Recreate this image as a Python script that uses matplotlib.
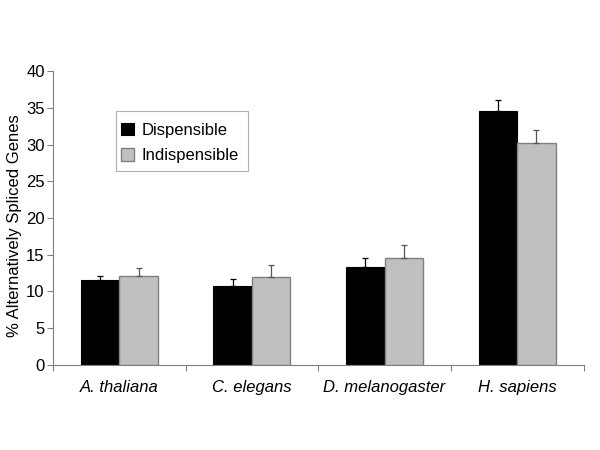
import matplotlib
matplotlib.use("Agg")
import matplotlib.pyplot as plt
from matplotlib.patches import Rectangle
import numpy as np

categories = ["A. thaliana", "C. elegans", "D. melanogaster", "H. sapiens"]
dispensible = [11.55, 10.7, 13.3, 34.6]
dispensible_err = [0.55, 1.0, 1.3, 1.4]
indispensible = [12.15, 11.95, 14.5, 30.2]
indispensible_err = [1.05, 1.6, 1.85, 1.75]
yticks = [0, 5, 10, 15, 20, 25, 30, 35, 40]

plt.rcParams['font.family'] = ['Liberation Sans', 'DejaVu Sans']

fig = plt.figure(figsize=(6, 4.5), dpi=100)
ax = fig.add_axes([0.0883, 0.1889, 0.8842, 0.6533])

x = np.arange(len(categories))
w = 0.29
ax.bar(x - w/2, dispensible, w, color='black', edgecolor='black', linewidth=0.8,
       label='Dispensible', zorder=2)
ax.bar(x + w/2, indispensible, w, color='#c0c0c0', edgecolor='#808080', linewidth=1.0,
       label='Indispensible', zorder=2)
ax.errorbar(x - w/2, dispensible, yerr=[np.zeros(4), dispensible_err], fmt='none',
            ecolor='black', elinewidth=0.9, capsize=2, capthick=0.9, zorder=3)
ax.errorbar(x + w/2, indispensible, yerr=[np.zeros(4), indispensible_err], fmt='none',
            ecolor='#555555', elinewidth=0.9, capsize=2, capthick=0.9, zorder=3)

ax.set_xlim(-0.5, len(categories) - 0.5)
ax.set_ylim(0, 40)
ax.set_yticks(yticks)
ax.set_yticklabels([str(v) for v in yticks], fontsize=12)
ax.set_xticks(x)
ax.set_xticklabels(categories, fontsize=12, style='italic')
ax.set_xticks(np.arange(-0.5, len(categories)), minor=True)
ax.tick_params(axis='x', which='major', length=0, pad=11)
ax.tick_params(axis='x', which='minor', length=4, color='#808080', width=0.8)
ax.tick_params(axis='y', length=4, color='#808080', width=0.8, pad=2)

for s in ['top', 'right']:
    ax.spines[s].set_visible(False)
for s in ['left', 'bottom']:
    ax.spines[s].set_color('#808080')
    ax.spines[s].set_linewidth(0.8)

ax.set_ylabel('% Alternatively Spliced Genes', fontsize=12)
ax.yaxis.set_label_coords(-0.058, 0.473)

# legend box frame
ax.add_patch(Rectangle((0.1188, 0.660), 0.2488, 0.204, transform=ax.transAxes,
                       facecolor='white', edgecolor='#b0b0b0', linewidth=0.8,
                       zorder=4, clip_on=False))
leg = ax.legend(loc='upper left', bbox_to_anchor=(0.1188, 0.840), fontsize=12,
                frameon=False,
                handlelength=0.75, handleheight=0.75, handletextpad=0.5,
                borderpad=0.3, labelspacing=0.62, borderaxespad=0)
leg.set_zorder(5)

fig.savefig('out.png', dpi=100)
